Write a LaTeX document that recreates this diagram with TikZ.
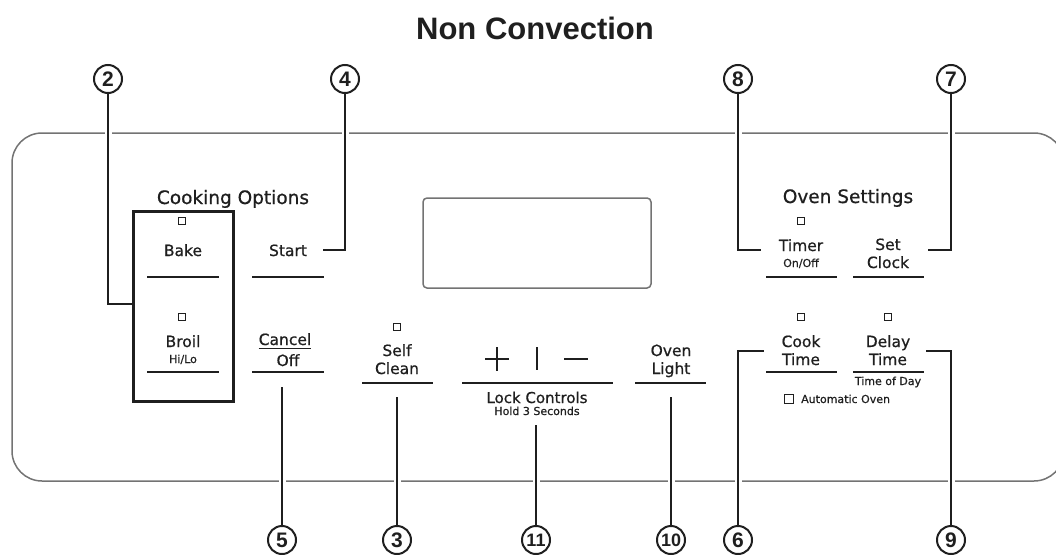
\documentclass[tikz,border=0pt]{standalone}
\usepackage{fontspec}
\newfontface\panelfont{DejaVu Sans}[FakeBold=0.7]
\newfontfamily\titlefont{Liberation Sans}
\usetikzlibrary{positioning}
\definecolor{panelgray}{gray}{0.45}
\definecolor{ink}{gray}{0.12}
\tikzset{num/.style = {draw=ink, circle, line width=2, inner sep=0, minimum size=28, text=ink, font=\titlefont\bfseries\fontsize{21}{21}\selectfont}}
\tikzset{numtwo/.style = {num, font=\titlefont\bfseries\fontsize{18}{18}\selectfont}}
\tikzset{leader/.style = {draw=ink, line width=1.8, preaction={draw=white, line width=7}}}
\tikzset{lbl/.style = {anchor=base, inner sep=0, text=ink, font=\panelfont\fontsize{15.5}{15.5}\selectfont}}
\tikzset{head/.style = {lbl, font=\panelfont\fontsize{18.5}{18.5}\selectfont}}
\tikzset{tiny/.style = {lbl, font=\panelfont\fontsize{11}{11}\selectfont}}
\tikzset{bar/.style = {draw=ink, line width=1.7}}
\tikzset{led/.style = {draw=ink, line width=0.8, inner sep=0, minimum size=7.5}}

\begin{document}
\begin{tikzpicture}[x=1pt, y=-1pt]
      \useasboundingbox (0,0) rectangle (1056,554);
      \node [font=\titlefont\bfseries\fontsize{31}{31}\selectfont, text=ink] (title) at (535,28) {Non Convection};

      % panel and display
      \begin{scope}
        \clip (0,0) rectangle (1056,554);
        \draw [panelgray, line width=1.5, rounded corners=30] (12,133) rectangle (1064,481);
      \end{scope}
      \draw [panelgray, line width=1.5, rounded corners=4] (423,198) rectangle (651,288);

      % callouts
      \node [num] (n2) at (108,79) {2};
      \node [num] (n4) at (345,79) {4};
      \node [num] (n8) at (738,79) {8};
      \node [num] (n7) at (951,79) {7};
      \node [num] (n5) at (282,540) {5};
      \node [num] (n3) at (397,540) {3};
      \node [numtwo] (n11) at (536,540) {11};
      \node [numtwo] (n10) at (671,540) {10};
      \node [num] (n6) at (738,540) {6};
      \node [num] (n9) at (951,540) {9};

      \coordinate (l2) at (133,304);
      \coordinate (l4) at (323,250);
      \coordinate (l8) at (761,250);
      \coordinate (l7) at (928,250);
      \coordinate (l5) at (282,387);
      \coordinate (l3) at (397,397);
      \coordinate (l11) at (536,425);
      \coordinate (l10) at (671,397);
      \coordinate (l6) at (764,351);
      \coordinate (l9) at (926,351);

      \draw [leader] (n2) |- (l2);
      \draw [leader] (n4) |- (l4);
      \draw [leader] (n8) |- (l8);
      \draw [leader] (n7) |- (l7);
      \draw [leader] (n5) -- (l5);
      \draw [leader] (n3) -- (l3);
      \draw [leader] (n11) -- (l11);
      \draw [leader] (n10) -- (l10);
      \draw [leader] (n6) |- (l6);
      \draw [leader] (n9) |- (l9);

      % cooking options
      \node [head] (cookopt) at (233,204) {Cooking Options};
      \node [draw=ink, line width=3, minimum width=100, minimum height=190, inner sep=0] (cookbox) at (183,306) {};

      \node [led] (ledbake) at (182,221) {};
      \node [lbl] (bake) at (183,256) {Bake};
      \draw [bar] (147,277) -- (219,277);

      \node [led] (ledbroil) at (182,317) {};
      \node [lbl] (broil) at (183,347) {Broil};
      \node [tiny] (hilo) at (183,363) {Hi/Lo};
      \draw [bar] (147,372) -- (219,372);

      \node [lbl] (start) at (288,256) {Start};
      \draw [bar] (252,277) -- (324,277);

      \node [lbl] (cancel) at (285,345) {Cancel};
      \draw [ink, line width=1.4] ([yshift=-3]cancel.south west) -- ([yshift=-3]cancel.south east);
      \node [lbl] (off) at (288,366) {Off};
      \draw [bar] (252,372) -- (324,372);

      \node [led] (ledclean) at (397,327) {};
      \node [lbl] (self) at (397,356) {Self};
      \node [lbl] (clean) at (397,374) {Clean};
      \draw [bar] (362,383) -- (433,383);

      % lock controls
      \draw [ink, line width=1.8] (485,359) -- (509,359) (497,347) -- (497,371);
      \draw [ink, line width=1.8] (537,347) -- (537,370);
      \draw [ink, line width=1.8] (564,359) -- (588,359);
      \draw [bar] (462,383) -- (613,383);
      \node [lbl, font=\panelfont\fontsize{15}{15}\selectfont] (lock) at (537,403) {Lock Controls};
      \node [tiny] (hold) at (537,415) {Hold 3 Seconds};

      \node [lbl] (oven) at (671,356) {Oven};
      \node [lbl] (light) at (671,374) {Light};
      \draw [bar] (635,383) -- (706,383);

      % oven settings
      \node [head] (ovenset) at (848,203) {Oven Settings};

      \node [led] (ledtimer) at (801,221) {};
      \node [lbl] (timer) at (801,251) {Timer};
      \node [tiny] (onoff) at (801,267) {On/Off};
      \draw [bar] (766,277) -- (837,277);

      \node [lbl] (set) at (888,250) {Set};
      \node [lbl] (clock) at (888,268) {Clock};
      \draw [bar] (853,277) -- (924,277);

      \node [led] (ledcook) at (801,317) {};
      \node [lbl] (cook) at (801,347) {Cook};
      \node [lbl] (cooktime) at (801,365) {Time};
      \draw [bar] (766,372) -- (837,372);

      \node [led] (leddelay) at (888,317) {};
      \node [lbl] (delay) at (888,347) {Delay};
      \node [lbl] (delaytime) at (888,365) {Time};
      \draw [bar] (853,372) -- (924,372);
      \node [tiny] (tod) at (888,385) {Time of Day};

      \node [led, minimum size=9] (ledauto) at (789,399) {};
      \node [tiny, anchor=base west] (auto) at (801,403) {Automatic Oven};
\end{tikzpicture}
\end{document}
